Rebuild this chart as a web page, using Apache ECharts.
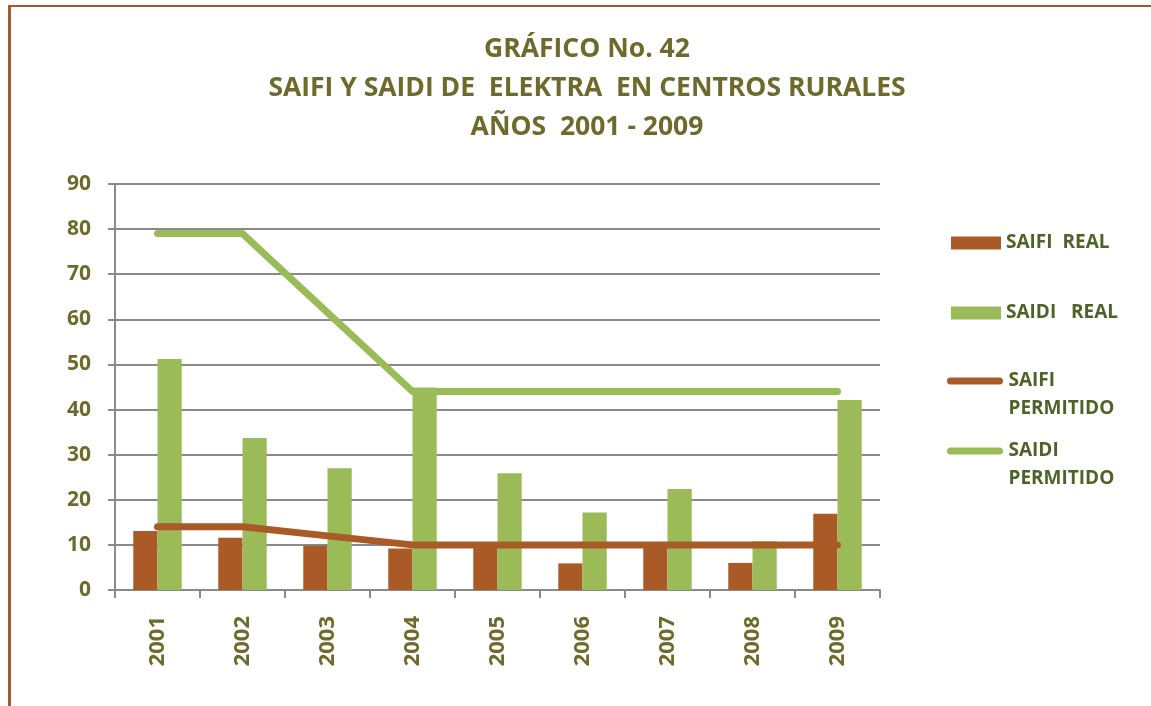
<!DOCTYPE html>
<html>
<head>
<meta charset="utf-8">
<script src="https://cdn.jsdelivr.net/npm/echarts@6/dist/echarts.min.js"></script>
<style>
  html, body { margin: 0; padding: 0; background: #fff; }
  #frame { position: absolute; left: 8px; top: 5px; right: 0; bottom: 0;
           border-left: 3px solid #a5582e; border-top: 2px solid #a5582e; }
  #chart { position: absolute; left: 0; top: 0; width: 1151px; height: 706px; }
</style>
</head>
<body>
<div id="frame"></div>
<div id="chart"></div>
<script>
const years = ['2001', '2002', '2003', '2004', '2005', '2006', '2007', '2008', '2009'];
const saifiReal = [13.1, 11.6, 9.8, 9.2, 10.2, 5.9, 10.1, 6.0, 16.9];
const saidiReal = [51.2, 33.7, 27.0, 44.9, 25.9, 17.2, 22.4, 10.8, 42.1];
const saifiPermitido = [14, 14, 12, 10, 10, 10, 10, 10, 10];
const saidiPermitido = [79, 79, 61.5, 44, 44, 44, 44, 44, 44];
const yTicks = { min: 0, max: 90, interval: 10 };

const brown = '#a95a26';
const green = '#9bbb59';
const olive = '#6d6a2c';
const legendGreen = '#4f6228';
const axisGray = '#8a8a8a';
const font = 'Open Sans';
const lineIcon = 'path://M3.5,0 L52.5,0 A3.5,3.5 0 0 1 52.5,7 L3.5,7 A3.5,3.5 0 0 1 3.5,0 Z';

// one legend per item so each can sit where the original has it
function legendAt(name, top, icon, iconW, iconH, multiline)
{
    return {
        data: [{ name: name, icon: icon }],
        left: icon === 'rect' ? 946 : 942,
        top: top,
        itemWidth: iconW,
        itemHeight: iconH,
        selectedMode: false,
        // leading blank line keeps the icon level with the first text line
        formatter: multiline ? (n) => '\u00a0\n' + n : undefined,
        textStyle: {
            color: legendGreen, fontFamily: font, fontWeight: 'bold', fontSize: 19,
            lineHeight: 28
        }
    };
}

const chart = echarts.init(document.getElementById('chart'), null, { renderer: 'canvas' });

chart.setOption({
    animation: false,
    title: {
        text: 'GRÁFICO No. 42\nSAIFI Y SAIDI DE  ELEKTRA  EN CENTROS RURALES\nAÑOS  2001 - 2009',
        left: 582,
        textAlign: 'center',
        top: 25,
        textStyle: {
            color: olive, fontFamily: font, fontWeight: 'bold', fontSize: 26.5, lineHeight: 39
        }
    },
    legend: [
        legendAt('SAIFI  REAL', 224, 'rect', 50, 13, false),
        legendAt('SAIDI   REAL', 294, 'rect', 50, 13, false),
        legendAt('SAIFI\nPERMITIDO', 334, lineIcon, 57, 7, true),
        legendAt('SAIDI\nPERMITIDO', 404, lineIcon, 57, 7, true)
    ],
    grid: { left: 115, right: 271, top: 184, bottom: 116, containLabel: false },
    xAxis: {
        type: 'category',
        data: years,
        boundaryGap: true,
        axisLine: { lineStyle: { color: axisGray, width: 2 } },
        axisTick: { show: true, length: 8, lineStyle: { color: axisGray, width: 2 } },
        axisLabel: {
            rotate: 90, margin: 26, color: olive, fontFamily: font, fontWeight: 'bold', fontSize: 22
        }
    },
    yAxis: {
        type: 'value',
        min: yTicks.min,
        max: yTicks.max,
        interval: yTicks.interval,
        axisLine: { show: true, lineStyle: { color: axisGray, width: 2 } },
        axisTick: { show: true, length: 7, lineStyle: { color: axisGray, width: 2 } },
        splitLine: { lineStyle: { color: axisGray, width: 2 } },
        axisLabel: { margin: 24, color: olive, fontFamily: font, fontWeight: 'bold', fontSize: 21 }
    },
    series: [
        {
            name: 'SAIFI  REAL', type: 'bar', data: saifiReal, z: 3,
            barGap: '0%', barCategoryGap: '43%',
            itemStyle: { color: brown }
        },
        {
            name: 'SAIDI   REAL', type: 'bar', data: saidiReal, z: 3,
            itemStyle: { color: green }
        },
        {
            name: 'SAIFI\nPERMITIDO', type: 'line', data: saifiPermitido, z: 4,
            showSymbol: false, symbol: 'none', itemStyle: { color: brown },
            lineStyle: { color: brown, width: 7, cap: 'round', join: 'round' }
        },
        {
            name: 'SAIDI\nPERMITIDO', type: 'line', data: saidiPermitido, z: 2,
            showSymbol: false, symbol: 'none', itemStyle: { color: green },
            lineStyle: { color: green, width: 7, cap: 'round', join: 'round' }
        }
    ]
});
</script>
</body>
</html>
